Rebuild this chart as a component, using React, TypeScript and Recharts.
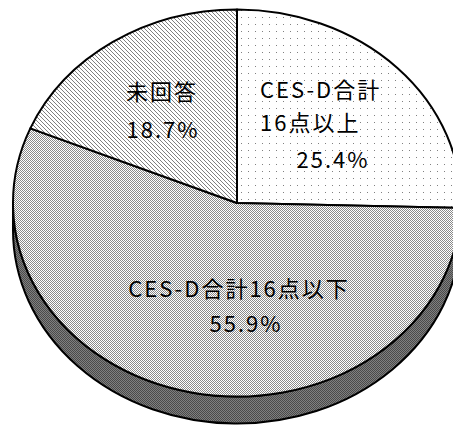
import { Pie, PieChart } from "recharts"

const categories = ["CES-D合計16点以上", "CES-D合計16点以下", "未回答"]
const shares = [25.4, 55.9, 18.7]
const fills = ["url(#dots)", "url(#checker)", "url(#hatch)"]

const data = categories.map((name, i) => ({ name, value: shares[i], fill: fills[i] }))

// vertical squash of the pie face and the depth of its rim
const FLAT = 0.864
const DEPTH = 27

// where each slice's text goes, relative to the pie centre
const labelLayout = [
  [
    { from: 0, to: 7, dx: 23, dy: -115, anchor: "start" },
    { from: 7, to: undefined, dx: 23, dy: -82, anchor: "start" },
    { pct: true, dx: 96, dy: -45, anchor: "middle" },
  ],
  [
    { from: 0, to: undefined, dx: 2, dy: 84, anchor: "middle" },
    { pct: true, dx: 9, dy: 119, anchor: "middle" },
  ],
  [
    { from: 0, to: undefined, dx: -75, dy: -113, anchor: "middle" },
    { pct: true, dx: -74, dy: -75, anchor: "middle" },
  ],
]

const RAD = Math.PI / 180

function EllipseSector(props: any) {
  const { cx, cy, outerRadius, startAngle, endAngle, fill } = props
  const rx = outerRadius
  const ry = outerRadius * FLAT
  const pt = (a: number, off = 0) => [cx + rx * Math.cos(a * RAD), cy - ry * Math.sin(a * RAD) + off]
  const hi = Math.max(startAngle, endAngle)
  const lo = Math.min(startAngle, endAngle)
  const [x1, y1] = pt(hi)
  const [x2, y2] = pt(lo)
  const large = hi - lo > 180 ? 1 : 0
  const top = `M${cx},${cy} L${x1},${y1} A${rx},${ry} 0 ${large} 1 ${x2},${y2} Z`

  // rim: only the part of the slice that lies on the front (lower) half
  const a = Math.min(hi, 0)
  const b = Math.max(lo, -180)
  let side = null
  if (a > b) {
    const [sx1, sy1] = pt(a)
    const [sx2, sy2] = pt(b)
    const [bx1, by1] = pt(a, DEPTH)
    const [bx2, by2] = pt(b, DEPTH)
    side = (
      <path
        d={`M${sx1},${sy1} A${rx},${ry} 0 0 1 ${sx2},${sy2} L${bx2},${by2} A${rx},${ry} 0 0 0 ${bx1},${by1} Z`}
        fill="url(#rim)"
        stroke="#000"
        strokeWidth={2}
      />
    )
  }
  return (
    <g>
      {side}
      <path d={top} fill={fill} stroke="#000" strokeWidth={2} strokeLinejoin="round" />
    </g>
  )
}

function renderLabel(props: any) {
  const { cx, cy, index, name, value } = props
  return (
    <g key={`lbl-${index}`}>
      {labelLayout[index].map((l: any, j: number) => (
        <text
          key={j}
          x={cx + l.dx}
          y={cy + l.dy}
          textAnchor={l.anchor}
          dominantBaseline="central"
          fontSize={22}
          letterSpacing={2}
          fill="#000"
          fontFamily="'Noto Sans CJK JP', sans-serif"
        >
          {l.pct ? `${value.toFixed(1)}%` : name.slice(l.from, l.to)}
        </text>
      ))}
    </g>
  )
}

export default function App() {
  return (
    <div style={{ position: "absolute", left: 0, top: 0, width: 453, height: 430, background: "#fff", overflow: "hidden" }}>
      <svg width={0} height={0} style={{ position: "absolute" }}>
        <defs>
          <pattern id="dots" width={7} height={7} patternUnits="userSpaceOnUse">
            <rect width={7} height={7} fill="#fff" />
            <rect x={3} y={3} width={1} height={1} fill="#808080" />
          </pattern>
          <pattern id="checker" width={2} height={2} patternUnits="userSpaceOnUse">
            <rect width={2} height={2} fill="#fff" />
            <rect x={0} y={0} width={1} height={1} fill="#8a8a8a" />
            <rect x={1} y={1} width={1} height={1} fill="#8a8a8a" />
          </pattern>
          <pattern id="hatch" width={4} height={4} patternUnits="userSpaceOnUse">
            <rect width={4} height={4} fill="#fff" />
            <rect x={0} y={0} width={1} height={1} fill="#808080" />
            <rect x={1} y={1} width={1} height={1} fill="#808080" />
            <rect x={2} y={2} width={1} height={1} fill="#808080" />
            <rect x={3} y={3} width={1} height={1} fill="#808080" />
          </pattern>
          <pattern id="rim" width={2} height={2} patternUnits="userSpaceOnUse">
            <rect width={2} height={2} fill="#808080" />
            <rect x={0} y={0} width={1} height={1} fill="#4a4a4a" />
            <rect x={1} y={1} width={1} height={1} fill="#4a4a4a" />
          </pattern>
        </defs>
      </svg>
      <PieChart width={453} height={430} margin={{ top: 0, right: 0, bottom: 0, left: 0 }}>
        <Pie
          data={data}
          dataKey="value"
          nameKey="name"
          cx={237}
          cy={203}
          outerRadius={224}
          startAngle={90}
          endAngle={-270}
          stroke="#000"
          strokeWidth={2}
          shape={EllipseSector}
          label={renderLabel}
          labelLine={false}
          isAnimationActive={false}
        />
      </PieChart>
    </div>
  )
}
